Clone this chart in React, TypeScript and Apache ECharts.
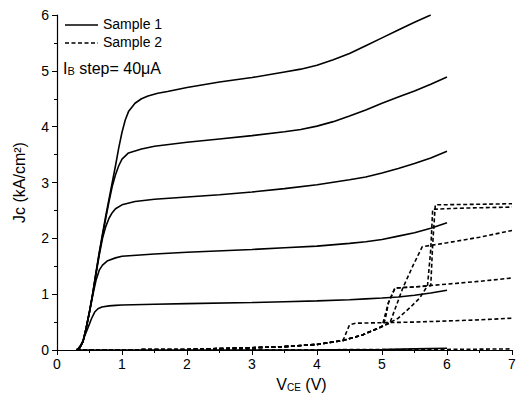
import React, { useEffect, useRef } from "react";
import * as echarts from "echarts";

// Sample 1 (solid) curves: [V_CE, Jc]
const s1c0: number[][] = [[0.3,0],[1,0],[2,0],[3,0],[4,0.003],[5,0.01],[5.5,0.02],[6,0.03]];
const s1c1: number[][] = [[0.3,0],[0.33,0.03],[0.36,0.08],[0.4,0.17],[0.44,0.29],[0.48,0.41],[0.53,0.56],[0.58,0.68],[0.63,0.74],[0.69,0.77],[0.8,0.79],[0.9,0.8],[1,0.805],[1.5,0.82],[2,0.83],[3,0.85],[3.5,0.865],[4,0.88],[4.5,0.9],[4.75,0.915],[5,0.93],[5.25,0.95],[5.5,0.98],[5.75,1.02],[6,1.07]];
const s1c2: number[][] = [[0.3,0],[0.35,0.04],[0.4,0.15],[0.45,0.4],[0.5,0.68],[0.55,0.98],[0.6,1.25],[0.65,1.43],[0.7,1.52],[0.78,1.6],[0.9,1.65],[1,1.68],[1.5,1.72],[2,1.75],[3,1.8],[3.5,1.83],[4,1.86],[4.5,1.91],[4.75,1.94],[5,1.98],[5.25,2.04],[5.5,2.1],[5.75,2.18],[6,2.28]];
const s1c3: number[][] = [[0.3,0],[0.35,0.04],[0.4,0.15],[0.45,0.4],[0.5,0.68],[0.55,1.0],[0.6,1.36],[0.65,1.7],[0.7,2.0],[0.75,2.21],[0.8,2.36],[0.85,2.46],[0.9,2.53],[1,2.6],[1.2,2.66],[1.5,2.7],[2,2.74],[2.5,2.78],[3,2.83],[3.5,2.89],[4,2.96],[4.5,3.05],[4.75,3.1],[5,3.17],[5.25,3.25],[5.5,3.34],[5.75,3.44],[6,3.56]];
const s1c4: number[][] = [[0.3,0],[0.35,0.04],[0.4,0.15],[0.45,0.4],[0.5,0.69],[0.55,1.01],[0.6,1.38],[0.65,1.73],[0.7,2.05],[0.75,2.36],[0.8,2.66],[0.85,2.93],[0.9,3.14],[0.95,3.3],[1,3.42],[1.1,3.53],[1.3,3.6],[1.5,3.65],[2,3.72],[2.5,3.78],[3,3.84],[3.5,3.91],[3.75,3.95],[4,4.01],[4.25,4.09],[4.5,4.19],[4.75,4.3],[5,4.42],[5.25,4.53],[5.5,4.64],[5.75,4.76],[6,4.89]];
const s1c5: number[][] = [[0.3,0],[0.35,0.04],[0.4,0.15],[0.45,0.4],[0.5,0.69],[0.55,1.02],[0.6,1.39],[0.65,1.75],[0.7,2.08],[0.75,2.4],[0.8,2.7],[0.85,3.0],[0.9,3.3],[0.95,3.62],[1,3.9],[1.05,4.12],[1.1,4.27],[1.2,4.42],[1.3,4.5],[1.4,4.55],[1.55,4.6],[1.7,4.63],[2,4.7],[2.5,4.8],[3,4.88],[3.5,4.98],[3.75,5.03],[4,5.1],[4.25,5.2],[4.5,5.31],[4.75,5.45],[5,5.59],[5.25,5.73],[5.5,5.87],[5.75,6.0]];

// Sample 2 (dashed) curves
const s2c0: number[][] = [[0.3,0],[2,0],[4,0.005],[6,0.01],[7,0.02]];
const s2c1: number[][] = [[0.3,0],[2,0.01],[3,0.04],[3.5,0.06],[4,0.1],[4.4,0.17],[4.5,0.45],[4.6,0.48],[5.5,0.5],[6.5,0.54],[7,0.57]];
const s2c2: number[][] = [[0.3,0],[2,0.01],[3,0.04],[3.5,0.06],[4,0.1],[4.4,0.17],[4.7,0.27],[5.0,0.42],[5.05,0.55],[5.1,0.85],[5.2,1.11],[5.5,1.13],[6,1.18],[6.5,1.23],[7,1.29]];
const s2c3: number[][] = [[0.3,0],[2,0.01],[3,0.04],[3.5,0.06],[4,0.1],[4.4,0.17],[4.7,0.27],[5.0,0.42],[5.12,0.48],[5.32,1.11],[5.48,1.52],[5.62,1.85],[6,1.92],[6.5,2.02],[7,2.14]];
const s2c4: number[][] = [[0.3,0],[2,0.01],[3,0.04],[3.5,0.06],[4,0.1],[4.4,0.17],[4.7,0.27],[5.0,0.42],[5.25,0.57],[5.45,0.78],[5.58,0.93],[5.7,1.15],[5.75,1.8],[5.78,2.52],[6.2,2.54],[7,2.56]];
const s2c5: number[][] = [[0.3,0],[2,0.01],[3,0.04],[3.5,0.06],[4,0.1],[4.4,0.17],[4.7,0.27],[5.0,0.42],[5.1,0.85],[5.2,1.11],[5.5,1.13],[5.75,1.15],[5.78,1.9],[5.82,2.6],[6.5,2.61],[7,2.62]];

const sample1 = [s1c0, s1c1, s1c2, s1c3, s1c4, s1c5];
const sample2 = [s2c0, s2c1, s2c2, s2c3, s2c4, s2c5];
const seriesNames = ["Sample 1", "Sample 2"];
const xTicks = { min: 0, max: 7, interval: 1 };
const yTicks = { min: 0, max: 6, interval: 1 };

const FONT = "Liberation Sans, Arial, sans-serif";
const DASH = [4, 2.5];

export default function App() {
  const ref = useRef<HTMLDivElement>(null);
  useEffect(() => {
    if (!ref.current) return;
    const chart = echarts.init(ref.current, undefined, { renderer: "svg" });
    const series: any[] = [];
    sample1.forEach((d) =>
      series.push({
        name: seriesNames[0],
        type: "line",
        data: d,
        symbol: "none",
        smooth: false,
        lineStyle: { color: "#000", width: 1.6, type: "solid" },
        itemStyle: { color: "#000" },
      })
    );
    sample2.forEach((d) =>
      series.push({
        name: seriesNames[1],
        type: "line",
        data: d,
        symbol: "none",
        smooth: false,
        lineStyle: { color: "#000", width: 1.6, type: DASH },
        itemStyle: { color: "#000" },
      })
    );
    chart.setOption({
      animation: false,
      backgroundColor: "#fff",
      textStyle: { fontFamily: FONT },
      grid: { left: 57, right: 12, top: 15, bottom: 51, containLabel: false },
      graphic: [
        { type: "line", shape: { x1: 65, y1: 25, x2: 98, y2: 25 }, style: { stroke: "#000", lineWidth: 1.6 } },
        { type: "text", left: 103, top: 17, style: { text: seriesNames[0], fontSize: 14, fontFamily: FONT, fill: "#000" } },
        { type: "line", shape: { x1: 65, y1: 43, x2: 98, y2: 43 }, style: { stroke: "#000", lineWidth: 1.6, lineDash: DASH } },
        { type: "text", left: 103, top: 35, style: { text: seriesNames[1], fontSize: 14, fontFamily: FONT, fill: "#000" } },
        {
          type: "text",
          left: 63,
          top: 60,
          style: {
            text: "{a|I}{b|B}{a| step=\u00a040μA}",
            rich: {
              a: { fontSize: 16, fontFamily: FONT, fill: "#000" },
              b: { fontSize: 11, fontFamily: FONT, fill: "#000", verticalAlign: "bottom" },
            },
          },
        },
      ],
      xAxis: {
        type: "value",
        ...xTicks,
        name: "{v|V}{s|CE}{v| (V)}",
        nameLocation: "middle",
        nameGap: 26,
        nameTextStyle: {
          padding: [0, 0, 0, 34],
          rich: {
            v: { fontSize: 16, fontFamily: FONT, color: "#000" },
            s: { fontSize: 10, fontFamily: FONT, color: "#000", verticalAlign: "bottom" },
          },
        },
        axisLine: { lineStyle: { color: "#000", width: 1.2 } },
        axisTick: { show: true, length: 5, lineStyle: { color: "#000" } },
        minorTick: { show: true, splitNumber: 2, length: 3, lineStyle: { color: "#000" } },
        splitLine: { show: false },
        axisLabel: { fontSize: 14, color: "#000", fontFamily: FONT, margin: 7 },
      },
      yAxis: {
        type: "value",
        ...yTicks,
        name: "Jc (kA/cm²)",
        nameLocation: "middle",
        nameGap: 30,
        nameTextStyle: { fontSize: 16, color: "#000", fontFamily: FONT },
        axisLine: { show: true, lineStyle: { color: "#000", width: 1.2 } },
        axisTick: { show: true, length: 5, lineStyle: { color: "#000" } },
        minorTick: { show: true, splitNumber: 2, length: 3, lineStyle: { color: "#000" } },
        splitLine: { show: false },
        axisLabel: { fontSize: 14, color: "#000", fontFamily: FONT, margin: 8 },
      },
      series,
    });
    return () => chart.dispose();
  }, []);
  return <div ref={ref} style={{ width: 524, height: 401, margin: -8 }} />;
}
